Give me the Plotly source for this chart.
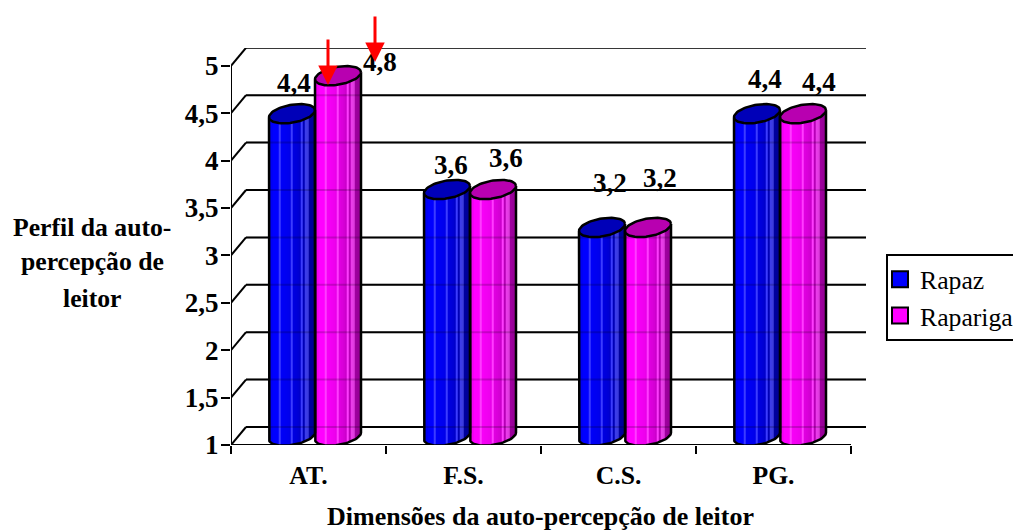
import math
import plotly.graph_objects as go

categories = ["AT.", "F.S.", "C.S.", "PG."]
rapaz = [4.4, 3.6, 3.2, 4.4]
rapariga = [4.8, 3.6, 3.2, 4.4]
y_ticks = [1, 1.5, 2, 2.5, 3, 3.5, 4, 4.5, 5]
y_labels = ["1", "1,5", "2", "2,5", "3", "3,5", "4", "4,5", "5"]

FONT = "Liberation Serif"
FS = 25.7
FS_NUM = 27
L, R, T, B = 231, 866, 48, 445      # plot box in page pixels
PX_X = 155.0                        # pixels per category
PX_Y = 94.8                         # pixels per value unit
xr = (R - L) / PX_X
yr = 1 + (B - T) / PX_Y
dX, dY = 15 / PX_X, 18 / PX_Y       # depth offset of the back wall
mid_x = 6.5 / PX_X                  # cylinders sit half way into the depth
half = 23 / PX_X
a = 23 / PX_X
eb, ek = 9 / PX_Y, 3.5 / PX_Y

def PXX(px):
    return (px - L) / (R - L)
def PXY(py):
    return (B - py) / (B - T)

shades = [.90, .96, 1, 1, 1, .98, .97, .96, .95, .94, .92, .90, .88, .86, .84, .80, .76, .72, .68, .64, .62, .60, .58]
streaks = {5, 11, 16, 18, 19}
N = len(shades)

def strip_color(rgb, i):
    s = shades[i]
    c = [int(v * s) for v in rgb]
    if i in streaks:
        c = [min(255, v + 60) for v in c]
    return f"rgb({c[0]},{c[1]},{c[2]})"

series = [
    ("Rapaz", rapaz, (0, 0, 255), "#0000b8", "#0000ff", -half),
    ("Rapariga", rapariga, (255, 0, 255), "#b800b0", "#ff00ff", half),
]

fig = go.Figure()
w = 2 * a / N
ts = [2 * math.pi * i / 72 for i in range(73)]

# cylinders as vertical strips
for name, vals, rgb, topc, legc, off in series:
    xs, ys, bases, cols = [], [], [], []
    for c, v in enumerate(vals):
        cx = c + 0.5 + mid_x + off
        for i in range(N):
            u = -1 + (2 * i + 1) / N
            bot = 1 + dY / 2 - eb * math.sqrt(1 - u * u) + ek * u
            top = v + dY / 2 + ek * u
            xs.append(cx - a + (i + .5) * w)
            bases.append(bot)
            ys.append(top - bot)
            cols.append(strip_color(rgb, i))
    fig.add_trace(go.Bar(x=xs, y=ys, base=bases, width=w * 1.25,
                         marker=dict(color=cols, line=dict(width=0)),
                         showlegend=False, hoverinfo="skip", cliponaxis=False))

# faint grid showing through the bars
gx, gy = [], []
for t in y_ticks:
    gx += [dX, xr, None]
    gy += [t + dY, t + dY, None]
fig.add_trace(go.Scatter(x=gx, y=gy, mode="lines", line=dict(color="rgba(0,0,0,0.18)", width=2),
                         showlegend=False, hoverinfo="skip", cliponaxis=False))

# outlines and top ellipses
for name, vals, rgb, topc, legc, off in series:
    for c, v in enumerate(vals):
        cx = c + 0.5 + mid_x + off
        bx = [cx - a]
        by = [v + dY / 2 - ek]
        for j in range(0, 37):
            t = math.pi * j / 36
            bx.append(cx - a * math.cos(t))
            by.append(1 + dY / 2 - eb * math.sin(t) - ek * math.cos(t))
        bx.append(cx + a)
        by.append(v + dY / 2 + ek)
        fig.add_trace(go.Scatter(x=bx, y=by, mode="lines", line=dict(color="black", width=2.5),
                                 showlegend=False, hoverinfo="skip", cliponaxis=False))
        ex = [cx + a * math.cos(t) for t in ts]
        ey = [v + dY / 2 + eb * math.sin(t) + ek * math.cos(t) for t in ts]
        fig.add_trace(go.Scatter(x=ex, y=ey, mode="lines", fill="toself", fillcolor=topc,
                                 line=dict(color="black", width=2.5),
                                 showlegend=False, hoverinfo="skip", cliponaxis=False))

# legend entries
for name, vals, rgb, topc, legc, off in series:
    fig.add_trace(go.Scatter(x=[None], y=[None], mode="markers", name=name,
                             marker=dict(symbol="square", size=16, color=legc,
                                         line=dict(color="black", width=2))))

# walls
shapes = []
line = dict(color="black", width=2)
for t in y_ticks:
    shapes.append(dict(type="line", xref="x", yref="y", x0=0, y0=t, x1=dX, y1=t + dY, line=line, layer="below"))
    shapes.append(dict(type="line", xref="x", yref="y", x0=dX, y0=t + dY, x1=xr, y1=t + dY, line=line, layer="below"))
shapes.append(dict(type="line", xref="x", yref="y", x0=0, y0=1, x1=0, y1=5, line=line, layer="below"))
shapes.append(dict(type="line", xref="x", yref="y", x0=0, y0=1, x1=4, y1=1, line=line, layer="below"))

# value labels
label_px = [(294, 83), (380, 62), (451, 165), (506, 158), (610, 183), (660, 178), (765, 79), (819, 82)]
label_vals = [rapaz[0], rapariga[0], rapaz[1], rapariga[1], rapaz[2], rapariga[2], rapaz[3], rapariga[3]]
anns = []
for (px, py), v in zip(label_px, label_vals):
    anns.append(dict(x=PXX(px), y=PXY(py), xref="paper", yref="paper", showarrow=False,
                     xanchor="center", yanchor="middle",
                     text=f"<b>{str(v).replace('.', ',')}</b>", font=dict(family=FONT, size=FS_NUM, color="black")))

# left title
for txt, py in [("Perfil da auto-", 227), ("percepção de", 261), ("leitor", 298)]:
    anns.append(dict(x=PXX(92), y=PXY(py), xref="paper", yref="paper", showarrow=False,
                     xanchor="center", yanchor="middle",
                     text=f"<b>{txt}</b>", font=dict(family=FONT, size=FS, color="black")))
# bottom title
anns.append(dict(x=PXX(540), y=PXY(516), xref="paper", yref="paper", showarrow=False,
                 xanchor="center", yanchor="middle",
                 text="<b>Dimensões da auto-percepção de leitor</b>", font=dict(family=FONT, size=26, color="black")))
# red arrows
for px, py in [(328, 85), (375, 62)]:
    anns.append(dict(x=PXX(px), y=PXY(py), xref="paper", yref="paper", ax=0, ay=-47, text="", showarrow=True,
                     arrowhead=2, arrowsize=1.3, arrowwidth=3, arrowcolor="#ff0000", standoff=0))

fig.update_layout(
    width=1013, height=531, margin=dict(l=L, r=1013 - R, t=T, b=531 - B, pad=0, autoexpand=False),
    paper_bgcolor="white", plot_bgcolor="white", barmode="overlay", shapes=shapes, annotations=anns,
    font=dict(family=FONT, size=FS, color="black"), hovermode=False,
    legend=dict(x=PXX(886), y=PXY(254), xanchor="left", yanchor="top",
                bordercolor="black", borderwidth=2, bgcolor="white", indentation=-8,
                font=dict(family=FONT, size=FS, color="black"), itemclick=False, itemdoubleclick=False),
    xaxis=dict(range=[0, xr], showgrid=False, zeroline=False, showline=False,
               tickmode="array", tickvals=[i + .5 for i in range(4)],
               ticktext=[f"<b>{c}</b>" for c in categories], ticks="", ticklabelstandoff=12,
               tickfont=dict(family=FONT, size=FS, color="black"),
               minor=dict(tickmode="array", tickvals=[0, 1, 2, 3, 4], ticks="outside", ticklen=8, tickwidth=2, tickcolor="black")),
    yaxis=dict(range=[1, yr], showgrid=False, zeroline=False, showline=False,
               tickmode="array", tickvals=y_ticks, ticktext=[f"<b>{t}</b>" for t in y_labels],
               ticks="outside", ticklen=9, tickwidth=2, tickcolor="black", ticklabelstandoff=-3,
               tickfont=dict(family=FONT, size=FS_NUM, color="black")),
)

fig.write_html("out.html", config=dict(displayModeBar=False),
               post_script="document.body.style.margin='0';document.body.style.overflow='hidden';")
